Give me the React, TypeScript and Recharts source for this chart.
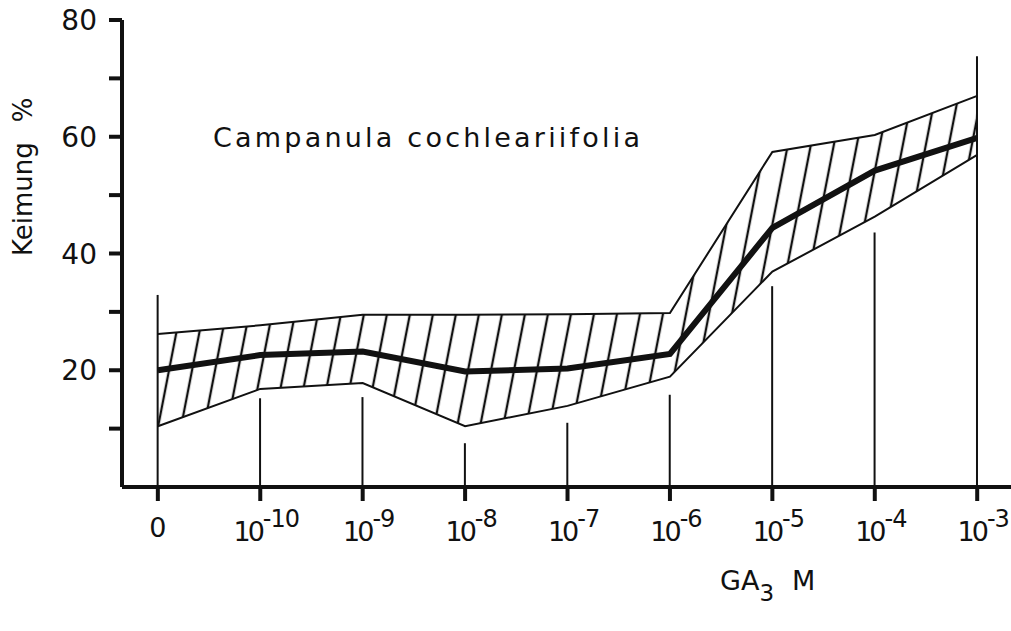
import React from 'react';
import { ComposedChart, Area, Line, Bar, XAxis, YAxis } from 'recharts';

// GA3 concentrations (index along the x axis)
const categories = ['0', '10^-10', '10^-9', '10^-8', '10^-7', '10^-6', '10^-5', '10^-4', '10^-3'];
const meanGerm = [20, 22.6, 23.2, 19.8, 20.3, 22.8, 44.4, 54.2, 59.8];
const upperGerm = [26.2, 27.7, 29.5, 29.5, 29.6, 29.8, 57.4, 60.3, 67];
const lowerGerm = [10.4, 16.8, 17.8, 10.4, 13.9, 18.9, 36.9, 46.3, 56.9];
const stemTops = [32.9, 15.2, 15.4, 7.5, 11, 15.8, 34.4, 43.6, 73.8];
const yTicks = [10, 20, 30, 40, 50, 60, 70, 80];
const yLabels = [20, 40, 60, 80];

const data = categories.map((c, i) => ({
  i,
  label: c,
  mean: meanGerm[i],
  upper: upperGerm[i],
  lower: lowerGerm[i],
  band: [lowerGerm[i], upperGerm[i]],
  stem: stemTops[i],
}));

const FONT = '"DejaVu Sans", sans-serif';

const YTick = (props: any) => {
  const { x, y, payload } = props;
  if (!yLabels.includes(payload.value)) return null;
  return (
    <text x={x} y={y} dy={10} textAnchor="end" fontSize={28} fontFamily={FONT} fill="#111">
      {payload.value}
    </text>
  );
};

const XTick = (props: any) => {
  const { x, y, payload } = props;
  const label = categories[payload.value] ?? '';
  if (!label.includes('^')) {
    return (
      <text x={x} y={y} dy={34} textAnchor="middle" fontSize={27} fontFamily={FONT} fill="#111">
        {label}
      </text>
    );
  }
  const [base, exp] = label.split('^');
  return (
    <text x={x + 6} y={y} dy={38} textAnchor="middle" fontSize={27} fontFamily={FONT} fill="#111">
      <tspan letterSpacing={-3}>{base}</tspan>
      <tspan dx={1} dy={-14} fontSize={24} letterSpacing={-1}>{exp}</tspan>
    </text>
  );
};

export default function App() {
  return (
    <div style={{ position: 'absolute', left: 0, top: 0, width: 1011, height: 631, background: '#fff' }}>
      <ComposedChart width={1011} height={631} data={data} margin={{ top: 20, right: 0, left: 0, bottom: 0 }}>
        <defs>
          <pattern id="hatch" patternUnits="userSpaceOnUse" width={23} height={200} patternTransform="skewX(-11)">
            <line x1={11} y1={0} x2={11} y2={200} stroke="#111" strokeWidth={2.4} />
          </pattern>
        </defs>
        <XAxis
          dataKey="i"
          type="number"
          domain={[-0.35, 8.33]}
          ticks={[0, 1, 2, 3, 4, 5, 6, 7, 8]}
          tick={<XTick />}
          height={144}
          axisLine={{ stroke: '#111', strokeWidth: 4 }}
          tickLine={{ stroke: '#111', strokeWidth: 4 }}
          tickSize={14}
          interval={0}
        />
        <YAxis
          type="number"
          domain={[0, 80]}
          ticks={yTicks}
          width={122}
          tick={<YTick />}
          axisLine={{ stroke: '#111', strokeWidth: 4 }}
          tickLine={{ stroke: '#111', strokeWidth: 4 }}
          tickSize={13}
          tickMargin={12}
        />
        <Bar dataKey="stem" barSize={2} fill="#111" isAnimationActive={false} />
        <Area
          type="linear"
          dataKey="band"
          fill="url(#hatch)"
          fillOpacity={1}
          stroke="none"
          isAnimationActive={false}
        />
        <Line type="linear" dataKey="upper" stroke="#111" strokeWidth={2} dot={false} isAnimationActive={false} />
        <Line type="linear" dataKey="lower" stroke="#111" strokeWidth={2} dot={false} isAnimationActive={false} />
        <Line type="linear" dataKey="mean" stroke="#111" strokeWidth={6} dot={false} isAnimationActive={false} />
        <text x={32} y={256} transform="rotate(-90, 32, 256)" fontSize={26} fontFamily={FONT} fill="#111">
          Keimung<tspan dx={20}>%</tspan>
        </text>
        <text x={213} y={147} fontSize={27} fontFamily={FONT} fill="#111" textLength={427} lengthAdjust="spacing">
          Campanula cochleariifolia
        </text>
        <text x={720} y={590} fontSize={27} fontFamily={FONT} fill="#111">
          GA<tspan dy={11} fontSize={23}>3</tspan>
          <tspan dy={-11} dx={18}>M</tspan>
        </text>
      </ComposedChart>
    </div>
  );
}
